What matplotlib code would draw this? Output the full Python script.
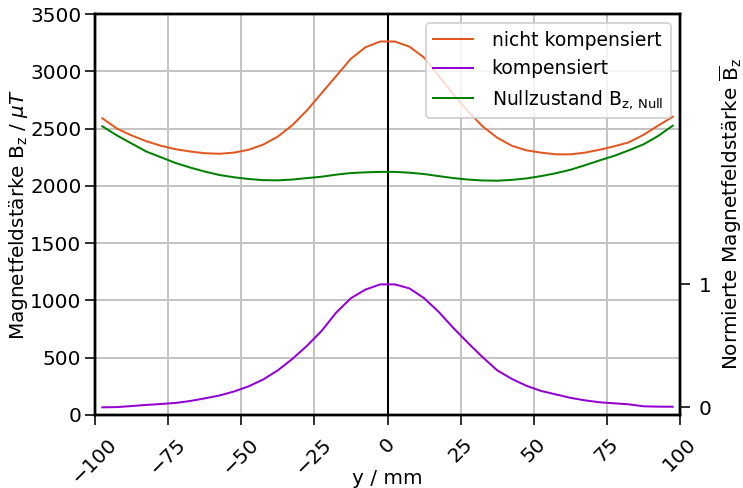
import numpy as np
import matplotlib
matplotlib.use("Agg")
import matplotlib.pyplot as plt

# Positionen der Messpunkte (mm)
y_mm = [-97.5, -92.5, -87.5, -82.5, -77.5, -72.5, -67.5, -62.5, -57.5, -52.5,
        -47.5, -42.5, -37.5, -32.5, -27.5, -22.5, -17.5, -12.5, -7.5, -2.5,
        2.5, 7.5, 12.5, 17.5, 22.5, 27.5, 32.5, 37.5, 42.5, 47.5,
        52.5, 57.5, 62.5, 67.5, 72.5, 77.5, 82.5, 87.5, 92.5, 97.5]

# Magnetfeldstärke ohne Kompensation (µT)
b_nicht_komp = [2590, 2500, 2440, 2390, 2350, 2320, 2300, 2285, 2280, 2290,
                2315, 2360, 2430, 2530, 2660, 2810, 2960, 3110, 3210, 3260,
                3260, 3215, 3120, 2960, 2800, 2650, 2520, 2420, 2350, 2310,
                2290, 2275, 2275, 2290, 2315, 2345, 2380, 2445, 2525, 2603]

# Magnetfeldstärke mit Kompensation (µT)
b_komp = [67, 69, 78, 88, 96, 105, 122, 145, 170, 205,
          250, 310, 390, 490, 605, 735, 895, 1020, 1095, 1140,
          1140, 1105, 1020, 900, 760, 630, 505, 390, 315, 255,
          210, 180, 150, 128, 111, 102, 93, 76, 73, 72]

# Nullzustand (µT)
b_null = [2520, 2440, 2370, 2300, 2250, 2200, 2160, 2125, 2095, 2075,
          2060, 2050, 2048, 2055, 2068, 2080, 2098, 2112, 2118, 2122,
          2122, 2115, 2103, 2085, 2068, 2055, 2047, 2045, 2052, 2065,
          2085, 2110, 2140, 2180, 2222, 2262, 2310, 2362, 2435, 2525]

x_ticks = [-100, -75, -50, -25, 0, 25, 50, 75, 100]
y_ticks = [0, 500, 1000, 1500, 2000, 2500, 3000, 3500]
norm_ticks = [0, 1]

plt.rcParams['font.family'] = ['DejaVu Sans']
plt.rcParams['font.size'] = 10

fig = plt.figure(figsize=(743 / 144, 488 / 144), dpi=144)
ax = fig.add_axes([95 / 743, 73 / 488, 585 / 743, 401 / 488])

ax.plot(y_mm, b_nicht_komp, color='#e2571e', lw=1.0, label='nicht kompensiert')
ax.plot(y_mm, b_komp, color='#9400d3', lw=1.0, label='kompensiert')
ax.plot(y_mm, b_null, color='#008000', lw=1.0,
        label=r'Nullzustand $\mathrm{B_{z,\,Null}}$')
ax.axvline(0, color='black', lw=1.0, zorder=1)

ax.set_xlim(-100, 100)
ax.set_ylim(0, 3500)
ax.set_xticks(x_ticks)
ax.set_yticks(y_ticks)
ax.tick_params(axis='x', labelrotation=45, length=4.8, pad=5)
ax.tick_params(axis='y', length=4.8, pad=2)
ax.grid(True, color='#c4c4c4', lw=1.0)
ax.set_axisbelow(True)
ax.set_xlabel('y / mm')
ax.xaxis.set_label_coords(0.5, -0.135)
ax.set_ylabel(r'Magnetfeldstärke $\mathrm{B_z}$ / $\mu T$', labelpad=0)
for s in ax.spines.values():
    s.set_linewidth(1.2)

ax.legend(loc='upper right', framealpha=0.8, fontsize=9.4,
          handlelength=2.1, handletextpad=1.0)

# Normierte Achse: Minimum -> 0, Maximum -> 1 der kompensierten Kurve
bmin, bmax = min(b_komp), max(b_komp)
ax2 = ax.twinx()
ax2.set_ylim((0 - bmin) / (bmax - bmin), (3500 - bmin) / (bmax - bmin))
ax2.set_yticks(norm_ticks)
ax2.tick_params(axis='y', length=4.8, pad=4.5)
ax2.set_ylabel(r'Normierte Magnetfeldstärke $\overline{\mathrm{B}}_\mathrm{z}$',
               labelpad=3)
for s in ax2.spines.values():
    s.set_linewidth(1.2)

fig.savefig('out.png', dpi=144)
